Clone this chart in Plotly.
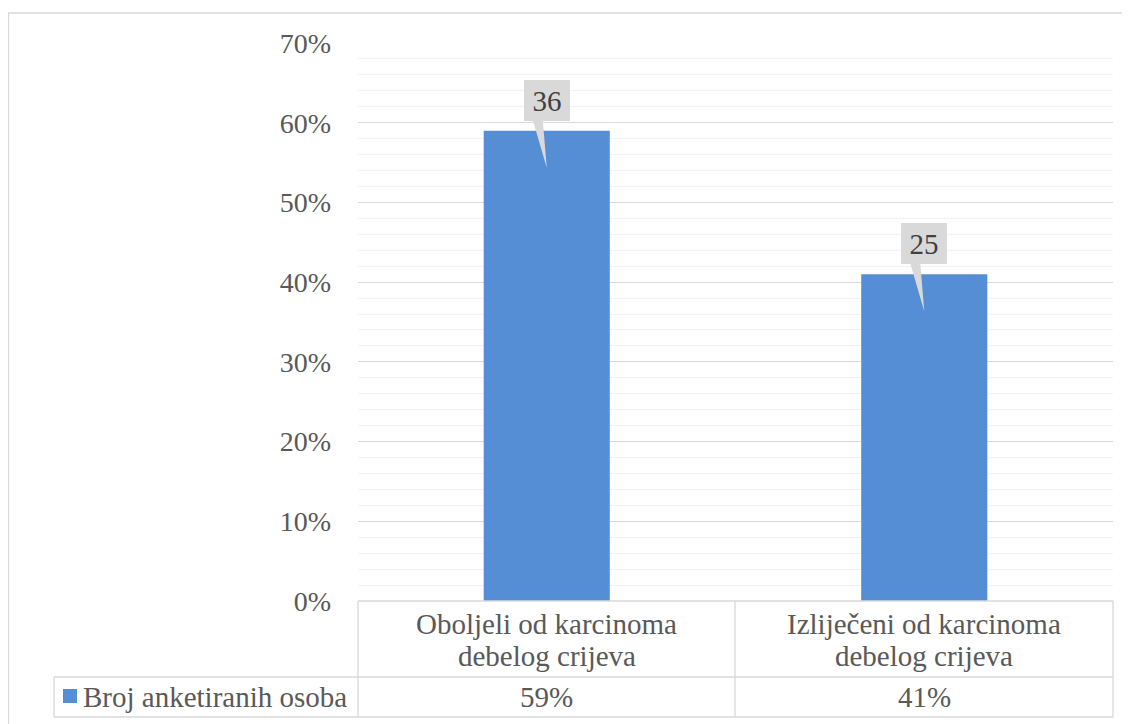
import plotly.graph_objects as go

# ---- data ----
categories = ["Oboljeli od karcinoma<br>debelog crijeva", "Izliječeni od karcinoma<br>debelog crijeva"]
cat_keys = ["Oboljeli", "Izliječeni"]
shares = [0.59, 0.41]
counts = [36, 25]
series_name = "Broj anketiranih osoba"
y_ticks = [0, 0.1, 0.2, 0.3, 0.4, 0.5, 0.6, 0.7]

FONT = "'Liberation Serif', 'Times New Roman', serif"
TXT = "#595959"
GRID = "#d9d9d9"
BAR = "#558ed5"
FS = 29
FS_TICK = 28

OFF = 8  # page body margin
W, H = 1122, 716
L, T = 358 - OFF, 43 - OFF
R = W - (1113 - OFF)
B = H - (601 - OFF)
PW, PH = W - L - R, H - T - B


def px(x):  # page pixel -> paper
    return (x - OFF - L) / PW


def py(y):
    return (H - B - (y - OFF)) / PH


fig = go.Figure()
fig.add_trace(go.Bar(x=cat_keys, y=shares, marker_color=BAR, marker_line_width=0,
                     name=series_name, showlegend=False, hoverinfo="skip"))

shapes = []
annotations = []

# callouts
for k, v, c in zip(cat_keys, shares, counts):
    annotations.append(dict(x=k, y=v, xref="x", yref="y", text=str(c), showarrow=False,
                            yanchor="bottom", yshift=10, width=46, height=41,
                            bgcolor="#d9d9d9", borderpad=0, borderwidth=0,
                            font=dict(family=FONT, size=FS, color="#404040")))
    shapes.append(dict(type="path", xref="x", yref="y", xsizemode="pixel", ysizemode="pixel",
                       xanchor=k, yanchor=v, path="M -14,11 L -4,11 L 0,-37 Z",
                       fillcolor="#d9d9d9", line=dict(width=0), layer="above"))

# outer chart border
shapes.append(dict(type="rect", xref="paper", yref="paper", x0=px(8.5), x1=px(1140),
                   y0=py(740), y1=py(13), line=dict(color=GRID, width=1.3)))

# data table lines
lc = dict(color=GRID, width=1.3)
shapes.append(dict(type="line", xref="paper", yref="paper", x0=px(358), x1=px(1113), y0=py(601), y1=py(601), line=lc))
for yy in (677, 717):
    shapes.append(dict(type="line", xref="paper", yref="paper", x0=px(54), x1=px(1113), y0=py(yy), y1=py(yy), line=lc))
shapes.append(dict(type="line", xref="paper", yref="paper", x0=px(54), x1=px(54), y0=py(677), y1=py(717), line=lc))
for xx in (358, 735, 1113):
    shapes.append(dict(type="line", xref="paper", yref="paper", x0=px(xx), x1=px(xx), y0=py(601), y1=py(717), line=lc))

# table texts
for k, lab, v in zip(cat_keys, categories, shares):
    lines = lab.split("<br>")
    for i, ln in enumerate(lines):
        annotations.append(dict(x=k, xref="x", yref="paper", y=py(624 + 32 * i), text=ln,
                                showarrow=False, yanchor="middle",
                                font=dict(family=FONT, size=FS, color=TXT)))
    annotations.append(dict(x=k, xref="x", yref="paper", y=py(697), text=f"{round(v*100)}%",
                            showarrow=False, yanchor="middle",
                            font=dict(family=FONT, size=FS, color=TXT)))

# legend key in table
shapes.append(dict(type="rect", xref="paper", yref="paper", x0=px(63), x1=px(77), y0=py(703), y1=py(689),
                   fillcolor=BAR, line=dict(width=0)))
annotations.append(dict(x=px(81), xref="paper", yref="paper", y=py(697), text=series_name,
                        showarrow=False, xanchor="left", yanchor="middle",
                        font=dict(family=FONT, size=FS, color=TXT)))

fig.update_layout(
    width=W, height=H,
    margin=dict(l=L, r=R, t=T, b=B),
    paper_bgcolor="white", plot_bgcolor="white",
    bargap=0.666,
    shapes=shapes, annotations=annotations,
    font=dict(family=FONT, size=FS, color=TXT),
    xaxis=dict(showticklabels=False, showgrid=False, zeroline=False, showline=False, ticks=""),
    yaxis=dict(range=[0, 0.7], tickvals=y_ticks, tickformat=".0%", showgrid=True, gridcolor=GRID,
               gridwidth=1.3, zeroline=False, showline=False, ticks="", ticklabelstandoff=26,
               tickfont=dict(family=FONT, size=FS_TICK, color=TXT),
               minor=dict(dtick=0.02, showgrid=True, gridcolor="#f2f2f2", gridwidth=1.3)),
)

fig.write_html("out.html")
